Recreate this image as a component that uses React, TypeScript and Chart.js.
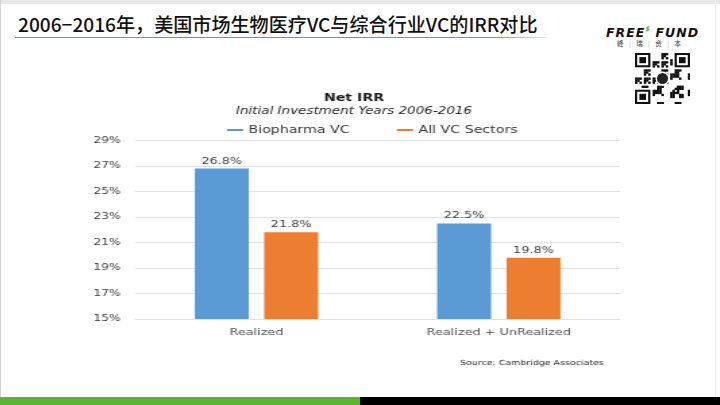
import React, { useEffect, useRef } from "react";
import { Chart, registerables } from "chart.js";

Chart.register(...registerables);

const pageTitle = "2006−2016年，美国市场生物医疗VC与综合行业VC的IRR对比";
const chartTitle = "Net IRR";
const chartSubtitle = "Initial Investment Years 2006-2016";
const sourceText = "Source: Cambridge Associates";
const categories = ["Realized", "Realized + UnRealized"];
const seriesNames = ["Biopharma VC", "All VC Sectors"];
const biopharmaValues = [26.8, 22.5];
const allSectorsValues = [21.8, 19.8];
const yTickValues = [15, 17, 19, 21, 23, 25, 27, 29];
const seriesColors = ["#5b9bd5", "#ed7d31"];
const logoChars = ["峰", "瑞", "资", "本"];

const FONT = "'DejaVu Sans', sans-serif";
const STRETCH = 1.35;

const valueLabelPlugin = {
  id: "valueLabels",
  afterDatasetsDraw(chart: any) {
    const ctx = chart.ctx;
    ctx.save();
    ctx.font = `9.5px ${FONT}`;
    ctx.fillStyle = "#404040";
    ctx.textAlign = "center";
    ctx.textBaseline = "alphabetic";
    chart.data.datasets.forEach((ds: any, di: number) => {
      const meta = chart.getDatasetMeta(di);
      meta.data.forEach((el: any, i: number) => {
        ctx.fillText(Number(ds.data[i]).toFixed(1) + "%", el.x, el.y - 5);
      });
    });
    ctx.restore();
  },
};

const customLegendPlugin = {
  id: "customLegend",
  afterDraw(chart: any) {
    const ctx = chart.ctx;
    const area = chart.chartArea;
    ctx.save();
    ctx.font = `10.5px ${FONT}`;
    ctx.textBaseline = "middle";
    const lineW = 12;
    const gapLT = 4;
    const gapItems = 35;
    const items = chart.data.datasets.map((ds: any) => ({
      label: ds.label,
      color: ds.backgroundColor,
      w: ctx.measureText(ds.label).width,
    }));
    let total = 0;
    items.forEach((it: any, i: number) => {
      total += lineW + gapLT + it.w + (i < items.length - 1 ? gapItems : 0);
    });
    let x = (area.left + area.right) / 2 - 4 - total / 2;
    const y = 44;
    items.forEach((it: any) => {
      ctx.fillStyle = it.color;
      ctx.fillRect(x, y - 1, lineW, 2);
      x += lineW + gapLT;
      ctx.fillStyle = "#333333";
      ctx.textAlign = "left";
      ctx.fillText(it.label, x, y);
      x += it.w + gapItems;
    });
    // source note
    ctx.font = `7px ${FONT}`;
    ctx.fillStyle = "#262626";
    ctx.textAlign = "right";
    ctx.fillText(sourceText, area.right - 12, 277);
    ctx.restore();
  },
};

function QrCode() {
  const ref = useRef<HTMLCanvasElement | null>(null);
  useEffect(() => {
    const c = ref.current;
    if (!c) return;
    const ctx = c.getContext("2d");
    if (!ctx) return;
    const n = 25;
    const w = c.width / n;
    const h = c.height / n;
    ctx.fillStyle = "#fff";
    ctx.fillRect(0, 0, c.width, c.height);
    ctx.fillStyle = "#111";
    const inFinder = (i: number, j: number) =>
      (i < 8 && j < 8) || (i < 8 && j >= n - 8) || (i >= n - 8 && j < 8);
    for (let i = 0; i < n; i++) {
      for (let j = 0; j < n; j++) {
        if (inFinder(i, j)) continue;
        const v = (i * 31 + j * 17 + i * j * 7 + ((i ^ j) * 3)) % 7;
        if (v < 3) ctx.fillRect(j * w, i * h, w + 0.3, h + 0.3);
      }
    }
    const finder = (r: number, col: number) => {
      ctx.fillStyle = "#111";
      ctx.fillRect(col * w, r * h, 7 * w, 7 * h);
      ctx.fillStyle = "#fff";
      ctx.fillRect((col + 1) * w, (r + 1) * h, 5 * w, 5 * h);
      ctx.fillStyle = "#111";
      ctx.fillRect((col + 2) * w, (r + 2) * h, 3 * w, 3 * h);
    };
    finder(0, 0);
    finder(0, n - 7);
    finder(n - 7, 0);
    const cx = c.width / 2;
    const cy = c.height / 2;
    ctx.fillStyle = "#fff";
    ctx.beginPath();
    ctx.arc(cx, cy, 7, 0, Math.PI * 2);
    ctx.fill();
    ctx.fillStyle = "#222";
    ctx.beginPath();
    ctx.arc(cx, cy, 5.5, 0, Math.PI * 2);
    ctx.fill();
  }, []);
  return (
    <canvas
      ref={ref}
      width={55}
      height={51}
      style={{ position: "absolute", left: 635, top: 53 }}
    />
  );
}

export default function App() {
  const canvasRef = useRef<HTMLCanvasElement | null>(null);

  useEffect(() => {
    const canvas = canvasRef.current;
    if (!canvas) return;
    const chart = new Chart(canvas, {
      type: "bar",
      data: {
        labels: categories,
        datasets: [
          {
            label: seriesNames[0],
            data: biopharmaValues,
            backgroundColor: seriesColors[0],
            categoryPercentage: 0.573,
            barPercentage: 0.777,
          },
          {
            label: seriesNames[1],
            data: allSectorsValues,
            backgroundColor: seriesColors[1],
            categoryPercentage: 0.573,
            barPercentage: 0.777,
          },
        ],
      },
      options: {
        animation: false,
        responsive: false,
        devicePixelRatio: 1,
        layout: { padding: { left: 23, right: 23, top: 0, bottom: 0 } },
        plugins: {
          legend: { display: false },
          tooltip: { enabled: false },
          title: {
            display: true,
            text: chartTitle,
            color: "#1a1a1a",
            font: { family: FONT, size: 10.5, weight: "bold", lineHeight: 1 },
            padding: { top: 7, bottom: 0 },
          },
          subtitle: {
            display: true,
            text: chartSubtitle,
            color: "#262626",
            font: { family: FONT, size: 10, style: "italic", lineHeight: 1 },
            padding: { top: 3, bottom: 24 },
          },
        },
        scales: {
          x: {
            grid: { display: false },
            border: { display: false },
            ticks: { color: "#4d4d4d", font: { family: FONT, size: 9.5 }, padding: 0 },
            afterFit: (s: any) => {
              s.height = 57;
            },
          },
          y: {
            min: yTickValues[0],
            max: yTickValues[yTickValues.length - 1],
            grid: { color: "#e2e2e2", drawTicks: false },
            border: { display: false },
            ticks: {
              stepSize: 2,
              color: "#404040",
              font: { family: FONT, size: 9 },
              padding: 11,
              callback: (v: any) => v + "%",
            },
            afterBuildTicks: (s: any) => {
              s.ticks = yTickValues.map((v) => ({ value: v }));
            },
            afterFit: (s: any) => {
              s.width = 35;
            },
          },
        },
      },
      plugins: [valueLabelPlugin, customLegendPlugin],
    } as any);
    return () => chart.destroy();
  }, []);

  return (
    <div
      style={{
        position: "fixed",
        left: 0,
        top: 0,
        width: 720,
        height: 405,
        background: "#ffffff",
        overflow: "hidden",
      }}
    >
      {/* frame */}
      <div style={{ position: "absolute", left: 0, top: 0, width: 720, height: 4, background: "#e9e9e9" }} />
      <div style={{ position: "absolute", left: 0, top: 0, width: 1, height: 405, background: "#d4d4d4" }} />
      <div style={{ position: "absolute", left: 715, top: 0, width: 1, height: 405, background: "#eeeeee" }} />

      {/* page title */}
      <div
        style={{
          position: "absolute",
          left: 18,
          top: 13,
          fontFamily: "'Noto Sans CJK SC', sans-serif",
          fontSize: 19.1,
          lineHeight: "22px",
          fontWeight: 500,
          color: "#111111",
          whiteSpace: "nowrap",
        }}
      >
        {pageTitle}
      </div>
      <div
        style={{
          position: "absolute",
          left: 15,
          top: 37,
          width: 532,
          height: 1,
          background: "linear-gradient(to right, #5cb531 0%, #5cb531 90%, rgba(92,181,49,0.2) 100%)",
        }}
      />

      {/* logo */}
      <div
        style={{
          position: "absolute",
          left: 606,
          top: 21,
          fontFamily: "'DejaVu Sans', sans-serif",
          fontWeight: "bold",
          fontStyle: "italic",
          fontSize: 12.5,
          letterSpacing: 1,
          lineHeight: "16px",
          color: "#111",
          whiteSpace: "nowrap",
        }}
      >
        FREE
        <span style={{ color: "#5cb531", fontSize: 7, verticalAlign: "6px", letterSpacing: 0 }}>$</span> FUND
      </div>
      <div
        style={{
          position: "absolute",
          left: 617,
          top: 39,
          width: 64,
          display: "flex",
          justifyContent: "space-between",
          fontFamily: "'Noto Sans CJK SC', sans-serif",
          fontSize: 6.5,
          lineHeight: "8px",
          color: "#333",
        }}
      >
        {logoChars.map((ch, i) => (
          <React.Fragment key={i}>
            <span>{ch}</span>
            {i < logoChars.length - 1 ? <span style={{ color: "#aaa" }}>|</span> : null}
          </React.Fragment>
        ))}
      </div>
      <QrCode />

      {/* chart, stretched horizontally like the pasted picture */}
      <div
        style={{
          position: "absolute",
          left: 57,
          top: 86,
          width: 440,
          height: 290,
          transform: `scaleX(${STRETCH})`,
          transformOrigin: "0 0",
        }}
      >
        <canvas ref={canvasRef} width={440} height={290} />
      </div>

      {/* bottom bar */}
      <div style={{ position: "absolute", left: 0, top: 397, width: 360, height: 8, background: "#5cb531" }} />
      <div style={{ position: "absolute", left: 360, top: 397, width: 360, height: 8, background: "#000000" }} />
    </div>
  );
}
